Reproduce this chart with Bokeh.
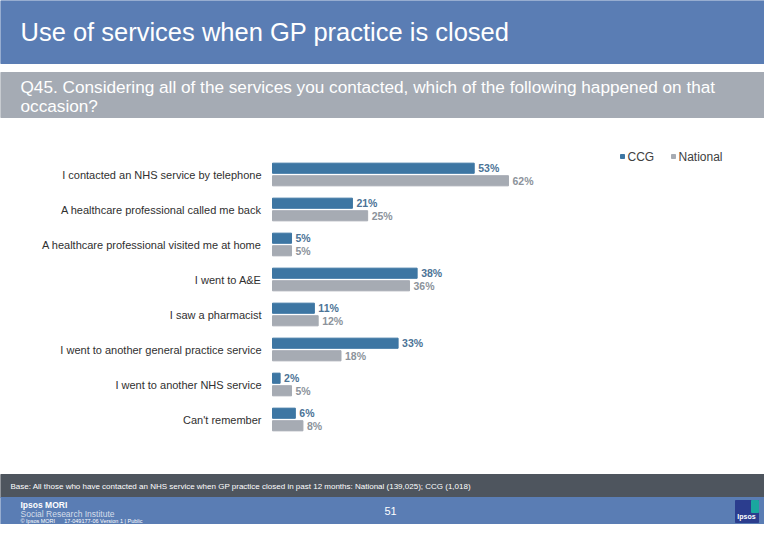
from bokeh.plotting import figure
from bokeh.models import ColumnDataSource, Range1d
from bokeh.transform import dodge
from bokeh.core.properties import value
from bokeh.embed import file_html
from bokeh.resources import INLINE

title = "Use of services when GP practice is closed"
question = ["Q45. Considering all of the services you contacted, which of the following happened on that",
            "occasion?"]
base_note = ("Base: All those who have contacted an NHS service when GP practice closed in past 12 months: "
             "National (139,025); CCG (1,018)")
series = ["CCG", "National"]
categories = [
    "I contacted an NHS service by telephone",
    "A healthcare professional called me back",
    "A healthcare professional visited me at home",
    "I went to A&E",
    "I saw a pharmacist",
    "I went to another general practice service",
    "I went to another NHS service",
    "Can't remember",
]
ccg = [53, 21, 5, 38, 11, 33, 2, 6]
national = [62, 25, 5, 36, 12, 18, 5, 8]

FONT = value("Liberation Sans")
BLUE_BAND = "#5a7db4"
CCG_COL = "#3d76a3"
NAT_COL = "#a6abb3"

W, H = 764, 524

# canvas in pixel units, y pointing down
p = figure(width=W, height=H, output_backend="svg", toolbar_location=None,
           x_range=Range1d(0, W), y_range=Range1d(H, 0),
           x_axis_location=None, y_axis_location=None, min_border=0)
p.outline_line_color = None
p.grid.visible = False
p.background_fill_color = "white"

# data ranges: 0% at x=272, 3.806px per %, rows 35px apart starting at y=174
px_per_pct = 3.806
p.extra_x_ranges = {"pct": Range1d(-272 / px_per_pct, (W - 272) / px_per_pct)}
p.extra_y_ranges = {"rows": Range1d((H - 174) / 35, (0 - 174) / 35)}

# header and footer bands
p.quad(left=0, right=W, top=0, bottom=63, color=BLUE_BAND)
p.quad(left=0, right=W, top=72, bottom=117, color="#a5abb4")
p.quad(left=0, right=W, top=474, bottom=497, color="#4e555e")
p.quad(left=0, right=W, top=497, bottom=H, color=BLUE_BAND)

p.text(x=[20], y=[31], text=[title], text_font=FONT, text_font_size="25.5px",
       text_color="white", text_baseline="middle")
p.text(x=[20, 20], y=[86, 105], text=question, text_font=FONT, text_font_size="17.2px",
       text_color="white", text_baseline="middle")
p.text(x=[10], y=[486], text=[base_note], text_font=FONT, text_font_size="8px",
       text_color="white", text_baseline="middle")

# footer branding
p.text(x=[20], y=[504], text=["Ipsos MORI"], text_font=FONT, text_font_size="8.5px",
       text_font_style="bold", text_color="white", text_baseline="middle")
p.text(x=[20], y=[513], text=["Social Research Institute"], text_font=FONT, text_font_size="8.5px",
       text_color="#d5ddea", text_baseline="middle")
p.text(x=[20], y=[520.5],
       text=["\u00a9 Ipsos MORI\u00a0\u00a0\u00a0\u00a0\u00a0\u00a017-049177-06 Version 1 | Public"],
       text_font=FONT, text_font_size="5.5px", text_color="white", text_baseline="middle")
p.text(x=[390], y=[510], text=["51"], text_font=FONT, text_font_size="11px",
       text_color="white", text_align="center", text_baseline="middle")
p.quad(left=735, right=758, top=500, bottom=522, color="#2b3d8e")
p.quad(left=751, right=758, top=500, bottom=512, color="#1aa79f")
p.text(x=[746], y=[516], text=["Ipsos"], text_font=FONT, text_font_size="7px",
       text_font_style="bold", text_color="white", text_align="center", text_baseline="middle")

# legend
leg_x = [622, 673]
p.scatter(x=leg_x, y=[156, 156], marker="square", size=4, color=[CCG_COL, NAT_COL])
p.text(x=[x + 5 for x in leg_x], y=[156, 156], text=series, text_font=FONT, text_font_size="12px",
       text_color="#404040", text_baseline="middle")

src = ColumnDataSource(dict(
    cat=categories,
    row=list(range(len(categories))),
    ccg=ccg,
    national=national,
    ccg_lbl=[f"{v}%" for v in ccg],
    nat_lbl=[f"{v}%" for v in national],
))

off = 0.179
bh = 0.29
p.hbar(y=dodge("row", -off), left=0, right="ccg", height=bh, color=CCG_COL, source=src,
       x_range_name="pct", y_range_name="rows")
p.hbar(y=dodge("row", off), left=0, right="national", height=bh, color=NAT_COL, source=src,
       x_range_name="pct", y_range_name="rows")

p.text(x="ccg", y=dodge("row", -off), text="ccg_lbl", x_offset=4, source=src,
       text_font=FONT, text_font_size="10.5px", text_font_style="bold", text_color="#4b7396",
       text_baseline="middle", x_range_name="pct", y_range_name="rows")
p.text(x="national", y=dodge("row", off), text="nat_lbl", x_offset=4, source=src,
       text_font=FONT, text_font_size="10.5px", text_font_style="bold", text_color="#8c939b",
       text_baseline="middle", x_range_name="pct", y_range_name="rows")

# category labels
p.text(x=261, y="row", text="cat", source=src, text_font=FONT, text_font_size="11px",
       text_color="#303030", text_align="right", text_baseline="middle", y_range_name="rows")

open("out.html", "w").write(file_html(p, INLINE))
